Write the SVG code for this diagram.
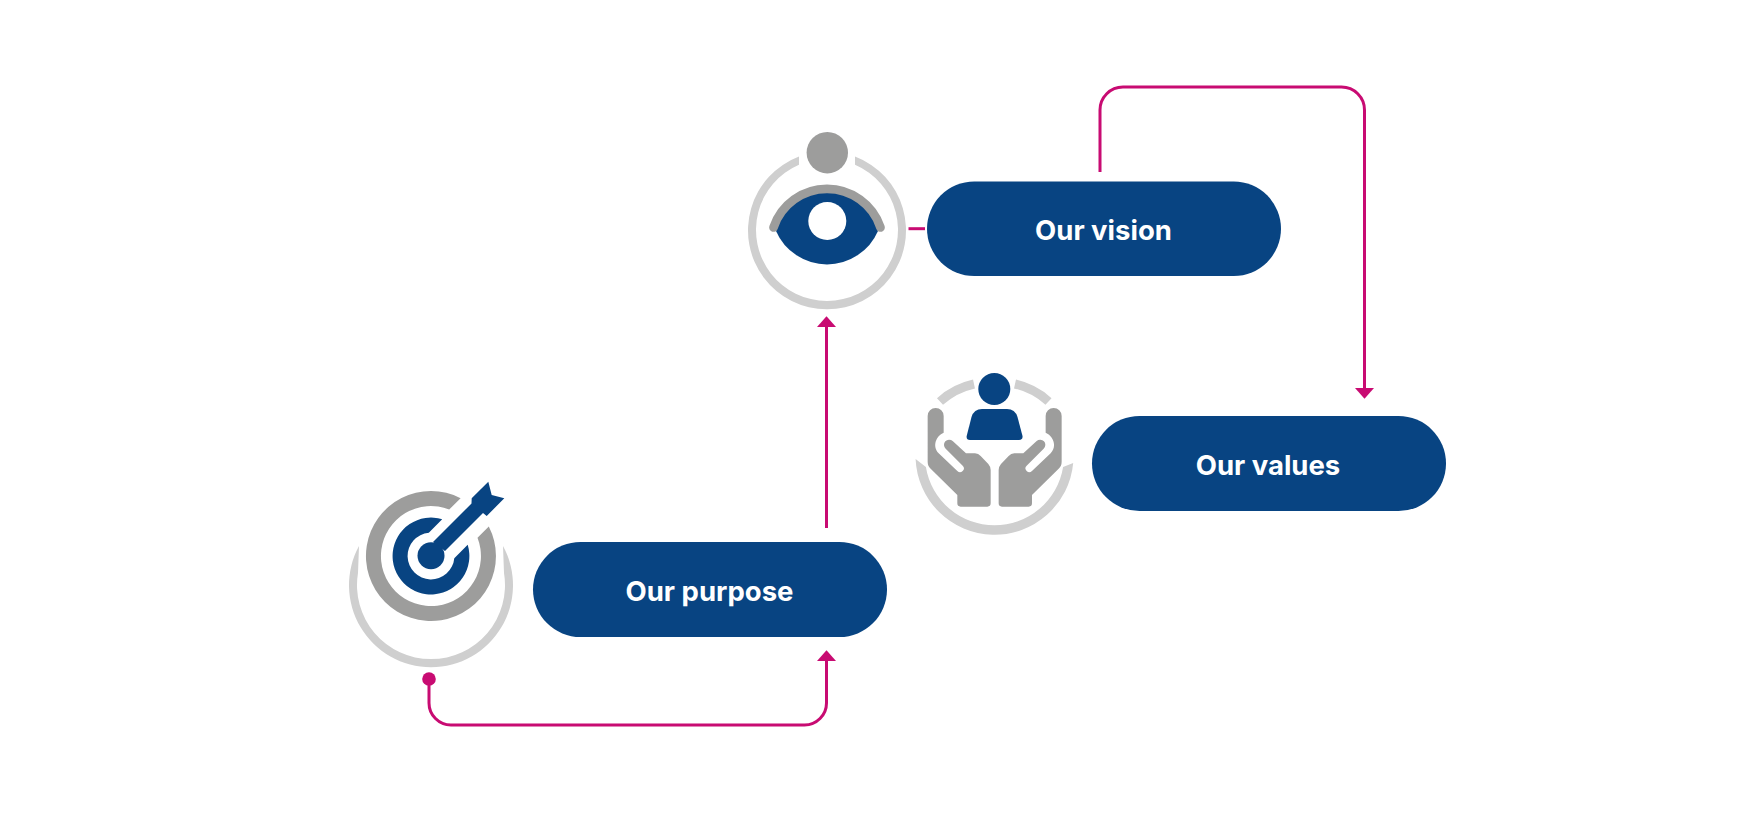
<svg xmlns="http://www.w3.org/2000/svg" width="1751" height="817" viewBox="0 0 1751 817">
<style>
.pill{fill:#084482}
.lbl{font-family:"Inter","Noto Sans",sans-serif;font-weight:700;font-size:27.500px;fill:#fff;text-anchor:middle}
.blue{fill:#084482}
.gray{fill:#9d9d9c}
.light{fill:#cfcfcf}
.conn{fill:none;stroke:#c80b72;stroke-width:3}
</style>
<defs>
<marker id="head" markerUnits="userSpaceOnUse" viewBox="0 0 11 20" refX="0" refY="10" markerWidth="11" markerHeight="20" orient="auto"><path d="M0 .5L10.700 10L0 19.500Z" fill="#c80b72"/></marker>
<marker id="dot" markerUnits="userSpaceOnUse" viewBox="0 0 14 14" refX="7" refY="7" markerWidth="14" markerHeight="14"><circle cx="7" cy="7" r="6.800" fill="#c80b72"/></marker>
<path id="hand" d="M83 168A24 24 0 0 1 131 168L131 218C108 228 96 258 116 280L172 333A11 11 0 0 0 188 317L137 266A15 15 0 0 1 158 243L198 280L225 280Q235 280 242 288L265 312Q272 320 272 330L272 430Q272 440 262 440L182 440Q172 440 172 430L172 405L92 326Q83 318 83 305Z"/>
</defs>
<rect width="1751" height="817" fill="#fff"/>
<g id="connectors">
<path class="conn" marker-start="url(#dot)" marker-end="url(#head)" d="M429 679V703A22 22 0 0 0 451 725H804.500A22 22 0 0 0 826.500 703V661"/>
<path class="conn" marker-end="url(#head)" d="M826.500 528V327"/>
<path class="conn" d="M908.500 228.700H925" stroke-width="3.500"/>
<path class="conn" marker-end="url(#head)" d="M1100 172V110A23 23 0 0 1 1123 87H1341.500A23 23 0 0 1 1364.500 110V388"/>
</g>
<g id="node-purpose">
<rect class="pill" x="533" y="542" width="354" height="95" rx="47.500"/>
<text class="lbl" x="709.500" y="601">Our purpose</text>
</g>
<g id="node-vision">
<rect class="pill" x="927" y="181.500" width="354" height="94.500" rx="47.250"/>
<text class="lbl" x="1103.500" y="239.500">Our vision</text>
</g>
<g id="node-values">
<rect class="pill" x="1092" y="416" width="354" height="95" rx="47.500"/>
<text class="lbl" x="1268" y="474.500">Our values</text>
</g>
<g id="icon-target">
<path class="light" d="M359 546A82 82 0 1 0 503 546L504 573A74 74 0 1 1 358 573Z"/>
<path class="gray" d="M460.600 498.200A65 65 0 1 0 488.800 526.400L477.500 537.800A50 50 0 1 1 449.200 509.500Z"/>
<path class="blue" d="M442.200 519.300A38.400 38.400 0 1 0 467.700 544.800L454.300 558.200A23.400 23.400 0 1 1 428.800 532.700Z"/>
<circle class="blue" cx="431" cy="555.700" r="13.500"/>
<path class="blue" d="M433 542L471.500 503.500L471.700 498.300L488.300 481.700L491.700 495L504.300 498.300L486.700 516L483 513L445 551Z"/>
</g>
<g id="icon-eye">
<path class="light" d="M799 156.500A79 79 0 1 0 855 156.500L855 164.700A71 71 0 1 1 799 164.700Z"/>
<circle class="gray" cx="827.300" cy="152.700" r="20.700"/>
<path class="blue" d="M776 231A52.500 52.500 0 0 1 878 231A55.600 55.600 0 0 1 776 231Z"/>
<path d="M773.500 227.500A56.400 56.400 0 0 1 880.500 227.500" fill="none" stroke="#9d9d9c" stroke-width="8.700" stroke-linecap="round"/>
<circle cx="827.300" cy="221" r="19" fill="#fff"/>
</g>
<g id="icon-hands">
<path class="light" d="M915.600 459A79 79 0 0 0 1073.200 463L1063.100 467A69.500 69.500 0 0 1 925.900 467Z"/>
<path d="M940 401.500A74.500 74.500 0 0 1 974 384M1015 384A74.500 74.500 0 0 1 1048.500 401.500" fill="none" stroke="#cfcfcf" stroke-width="9"/>
<circle class="blue" cx="994.300" cy="389" r="16"/>
<path class="blue" d="M982 409H1007Q1015 409 1017.500 417L1022.500 436Q1023 440 1019 440H970Q966 440 966.700 436L971.500 417Q974 409 982 409Z"/>
<g class="gray" transform="translate(900 360) scale(.3333)"><use href="#hand"/><use href="#hand" transform="translate(568 0) scale(-1 1)"/></g>
</g>
</svg>
